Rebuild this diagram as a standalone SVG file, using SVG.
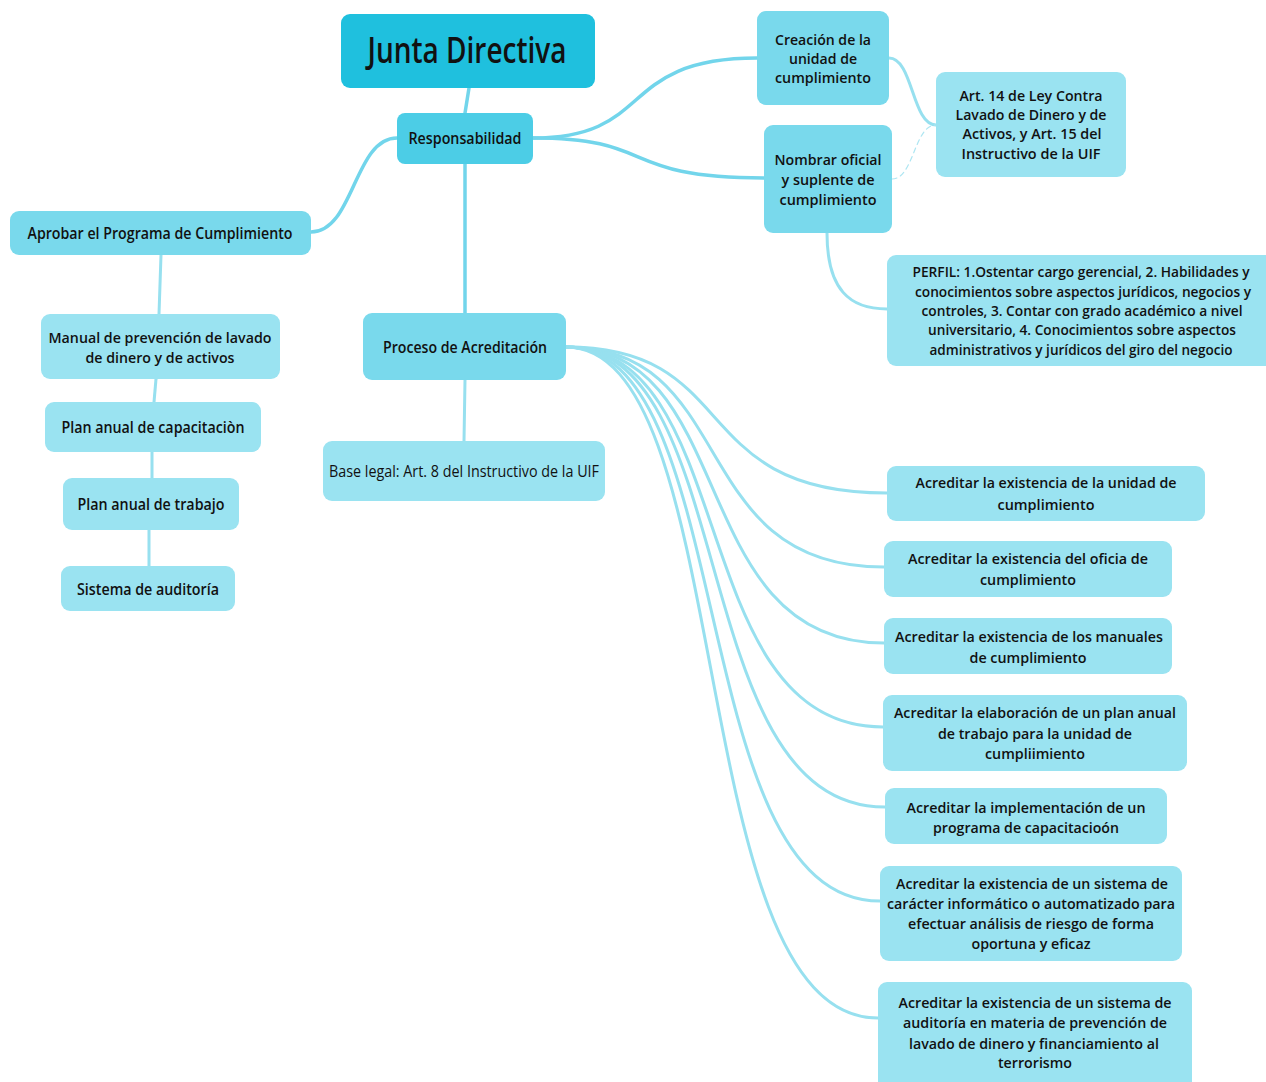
<svg xmlns="http://www.w3.org/2000/svg" width="1266" height="1082" viewBox="0 0 1266 1082">
  <style>
    .root { fill: #1fc0de; }
    .l1 { fill: #4ccde6; }
    .l2 { fill: #79d9ec; }
    .l3 { fill: #9ae3f1; }
    text { font-family: "Open Sans", "Noto Sans", "Liberation Sans", sans-serif; fill: #111; text-anchor: middle; font-weight: 600; }
    .t16 { font-size: 17px; }
    .t15 { font-size: 15px; }
    .t14 { font-size: 14px; }
    .reg { font-weight: 400; }
    .title { font-size: 36px; }
    .edge { fill: none; stroke: #97e0ef; stroke-width: 3; stroke-linecap: round; }
    .edge.main { stroke: #72d5eb; stroke-width: 3.5; }
    .edge.dash { stroke: #aee6f2; stroke-width: 1.2; stroke-dasharray: 5 4; }
  </style>

  <!-- connectors -->
  <g id="connectors">
    <path class="edge main" d="M469,88 L465,113"/>
    <path class="edge main" d="M465,164 L465,313"/>
    <path class="edge main" d="M397,138 C354,138 354,232 311,232"/>
    <path class="edge main" d="M533,138 C656,138 616,58 757,58"/>
    <path class="edge main" d="M533,138 C659,138 617,178 764,178"/>
    <path class="edge" d="M889,58 C913,58 912,125 936,125"/>
    <path class="edge dash" d="M892,179 C914,179 914,125 936,125"/>
    <path class="edge" d="M827,233 C827,290 850,309 887,309"/>
    <path class="edge" d="M465,380 L464,441"/>
    <path class="edge" d="M161,255 L159,314"/>
    <path class="edge" d="M156,379 L154,402"/>
    <path class="edge" d="M152,452 L152,478"/>
    <path class="edge" d="M149,530 L149,566"/>
    <!-- fan from Proceso de Acreditación -->
    <path class="edge" d="M566,347 C743,347 685,493 887,493"/>
    <path class="edge" d="M566,347 C741,347 684,567 884,567"/>
    <path class="edge" d="M566,347 C741,347 684,643 884,643"/>
    <path class="edge" d="M566,347 C741,347 684,727 883,727"/>
    <path class="edge" d="M566,347 C742,347 684,807 885,807"/>
    <path class="edge" d="M566,347 C740,347 683,901 880,901"/>
    <path class="edge" d="M566,347 C739,347 682,1018 878,1018"/>
  </g>

  <g id="junta">
    <rect class="root" x="341" y="14" width="254" height="74" rx="9"/>
    <text class="title" x="467" y="63" textLength="199" lengthAdjust="spacingAndGlyphs">Junta Directiva</text>
  </g>

  <g id="responsabilidad">
    <rect class="l1" x="397" y="113" width="136" height="51" rx="8"/>
    <text class="t16" x="465" y="144" textLength="113" lengthAdjust="spacingAndGlyphs">Responsabilidad</text>
  </g>

  <g id="aprobar">
    <rect class="l2" x="10" y="211" width="301" height="44" rx="9"/>
    <text class="t16" x="160" y="239" textLength="265" lengthAdjust="spacingAndGlyphs">Aprobar el Programa de Cumplimiento</text>
  </g>

  <g id="manual">
    <rect class="l3" x="41" y="314" width="239" height="65" rx="9"/>
    <text class="t15" x="160" y="343" textLength="223" lengthAdjust="spacingAndGlyphs">Manual de prevención de lavado</text>
    <text class="t15" x="160" y="363" textLength="149" lengthAdjust="spacingAndGlyphs">de dinero y de activos</text>
  </g>

  <g id="plan-capacitacion">
    <rect class="l3" x="45" y="402" width="216" height="50" rx="9"/>
    <text class="t16" x="153" y="433" textLength="183" lengthAdjust="spacingAndGlyphs">Plan anual de capacitaciòn</text>
  </g>

  <g id="plan-trabajo">
    <rect class="l3" x="63" y="478" width="176" height="52" rx="9"/>
    <text class="t16" x="151" y="510" textLength="147" lengthAdjust="spacingAndGlyphs">Plan anual de trabajo</text>
  </g>

  <g id="sistema-auditoria">
    <rect class="l3" x="61" y="566" width="174" height="45" rx="9"/>
    <text class="t16" x="148" y="595" textLength="142" lengthAdjust="spacingAndGlyphs">Sistema de auditoría</text>
  </g>

  <g id="proceso">
    <rect class="l2" x="363" y="313" width="203" height="67" rx="9"/>
    <text class="t16" x="465" y="353" textLength="164" lengthAdjust="spacingAndGlyphs">Proceso de Acreditación</text>
  </g>

  <g id="base-legal">
    <rect class="l3" x="323" y="441" width="282" height="60" rx="9"/>
    <text class="t16 reg" x="464" y="477" textLength="270" lengthAdjust="spacingAndGlyphs">Base legal: Art. 8 del Instructivo de la UIF</text>
  </g>

  <g id="creacion">
    <rect class="l2" x="757" y="11" width="132" height="94" rx="9"/>
    <text class="t15" x="823" y="45" textLength="96" lengthAdjust="spacingAndGlyphs">Creación de la</text>
    <text class="t15" x="823" y="64" textLength="68" lengthAdjust="spacingAndGlyphs">unidad de</text>
    <text class="t15" x="823" y="83" textLength="96" lengthAdjust="spacingAndGlyphs">cumplimiento</text>
  </g>

  <g id="nombrar">
    <rect class="l2" x="764" y="125" width="128" height="108" rx="9"/>
    <text class="t15" x="828" y="165" textLength="107" lengthAdjust="spacingAndGlyphs">Nombrar oficial</text>
    <text class="t15" x="828" y="185" textLength="93" lengthAdjust="spacingAndGlyphs">y suplente de</text>
    <text class="t15" x="828" y="205" textLength="97" lengthAdjust="spacingAndGlyphs">cumplimiento</text>
  </g>

  <g id="art14">
    <rect class="l3" x="936" y="72" width="190" height="105" rx="9"/>
    <text class="t15" x="1031" y="101" textLength="143" lengthAdjust="spacingAndGlyphs">Art. 14 de Ley Contra</text>
    <text class="t15" x="1031" y="120" textLength="151" lengthAdjust="spacingAndGlyphs">Lavado de Dinero y de</text>
    <text class="t15" x="1032" y="139" textLength="139" lengthAdjust="spacingAndGlyphs">Activos, y Art. 15 del</text>
    <text class="t15" x="1031" y="159" textLength="139" lengthAdjust="spacingAndGlyphs">Instructivo de la UIF</text>
  </g>

  <g id="perfil">
    <rect class="l3" x="887" y="255" width="390" height="111" rx="9"/>
    <text class="t14" x="1081" y="277" textLength="337" lengthAdjust="spacingAndGlyphs">PERFIL: 1.Ostentar cargo gerencial, 2. Habilidades y</text>
    <text class="t14" x="1083" y="297" textLength="336" lengthAdjust="spacingAndGlyphs">conocimientos sobre aspectos jurídicos, negocios y</text>
    <text class="t14" x="1082" y="316" textLength="321" lengthAdjust="spacingAndGlyphs">controles, 3. Contar con grado académico a nivel</text>
    <text class="t14" x="1082" y="335" textLength="308" lengthAdjust="spacingAndGlyphs">universitario, 4. Conocimientos sobre aspectos</text>
    <text class="t14" x="1081" y="355" textLength="303" lengthAdjust="spacingAndGlyphs">administrativos y jurídicos del giro del negocio</text>
  </g>

  <g id="acreditar-unidad">
    <rect class="l3" x="887" y="466" width="318" height="55" rx="9"/>
    <text class="t15" x="1046" y="488" textLength="261" lengthAdjust="spacingAndGlyphs">Acreditar la existencia de la unidad de</text>
    <text class="t15" x="1046" y="510" textLength="97" lengthAdjust="spacingAndGlyphs">cumplimiento</text>
  </g>

  <g id="acreditar-oficial">
    <rect class="l3" x="884" y="541" width="288" height="56" rx="9"/>
    <text class="t15" x="1028" y="564" textLength="240" lengthAdjust="spacingAndGlyphs">Acreditar la existencia del oficia de</text>
    <text class="t15" x="1028" y="585" textLength="96" lengthAdjust="spacingAndGlyphs">cumplimiento</text>
  </g>

  <g id="acreditar-manuales">
    <rect class="l3" x="884" y="618" width="288" height="56" rx="9"/>
    <text class="t15" x="1029" y="642" textLength="268" lengthAdjust="spacingAndGlyphs">Acreditar la existencia de los manuales</text>
    <text class="t15" x="1028" y="663" textLength="117" lengthAdjust="spacingAndGlyphs">de cumplimiento</text>
  </g>

  <g id="acreditar-plan">
    <rect class="l3" x="883" y="695" width="304" height="76" rx="9"/>
    <text class="t15" x="1035" y="718" textLength="282" lengthAdjust="spacingAndGlyphs">Acreditar la elaboración de un plan anual</text>
    <text class="t15" x="1035" y="739" textLength="194" lengthAdjust="spacingAndGlyphs">de trabajo para la unidad de</text>
    <text class="t15" x="1035" y="759" textLength="100" lengthAdjust="spacingAndGlyphs">cumpliimiento</text>
  </g>

  <g id="acreditar-capacitacion">
    <rect class="l3" x="885" y="788" width="282" height="56" rx="9"/>
    <text class="t15" x="1026" y="813" textLength="239" lengthAdjust="spacingAndGlyphs">Acreditar la implementación de un</text>
    <text class="t15" x="1026" y="833" textLength="186" lengthAdjust="spacingAndGlyphs">programa de capacitacioón</text>
  </g>

  <g id="acreditar-sistema-informatico">
    <rect class="l3" x="880" y="866" width="302" height="95" rx="9"/>
    <text class="t15" x="1032" y="889" textLength="272" lengthAdjust="spacingAndGlyphs">Acreditar la existencia de un sistema de</text>
    <text class="t15" x="1031" y="909" textLength="288" lengthAdjust="spacingAndGlyphs">carácter informático o automatizado para</text>
    <text class="t15" x="1031" y="929" textLength="246" lengthAdjust="spacingAndGlyphs">efectuar análisis de riesgo de forma</text>
    <text class="t15" x="1031" y="949" textLength="119" lengthAdjust="spacingAndGlyphs">oportuna y eficaz</text>
  </g>

  <g id="acreditar-auditoria">
    <rect class="l3" x="878" y="982" width="314" height="110" rx="9"/>
    <text class="t15" x="1035" y="1008" textLength="273" lengthAdjust="spacingAndGlyphs">Acreditar la existencia de un sistema de</text>
    <text class="t15" x="1035" y="1028" textLength="264" lengthAdjust="spacingAndGlyphs">auditoría en materia de prevención de</text>
    <text class="t15" x="1034" y="1049" textLength="250" lengthAdjust="spacingAndGlyphs">lavado de dinero y financiamiento al</text>
    <text class="t15" x="1035" y="1068" textLength="74" lengthAdjust="spacingAndGlyphs">terrorismo</text>
  </g>
</svg>
